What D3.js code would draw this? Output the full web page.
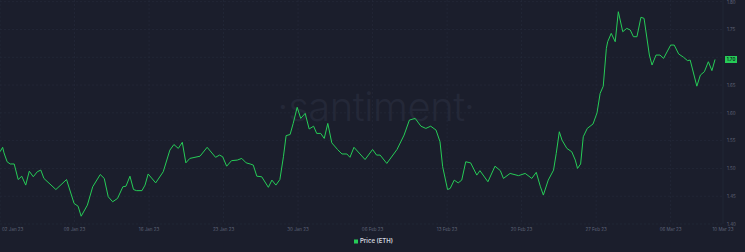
<!DOCTYPE html>
<html>
<head>
<meta charset="utf-8">
<script src="https://cdn.jsdelivr.net/npm/d3@7"></script>
<style>
  body { margin: 0; background: #1b1e2c; }
  svg { display: block; }
</style>
</head>
<body>
<div id="chart"></div>
<script>
// ***** DATA *****
var startDate = "2023-01-02T00:00:00Z";
var seriesName = "Price (ETH)";

// hours after startDate for each reading
var hourOffsets = [
  0, 6, 9, 16, 23, 32, 41, 49, 58, 66, 75, 84, 92, 99, 126, 150, 167, 176, 183, 197,
  209, 226, 235, 244, 254, 265, 277, 284, 293, 301, 308, 320, 327, 334, 351, 368, 383, 392, 402, 411,
  419, 428, 451, 467, 486, 495, 502, 511, 522, 535, 545, 555, 564, 571, 579, 590, 605, 613, 622, 631,
  639, 645, 654, 661, 670, 678, 688, 697, 707, 714, 723, 731, 739, 748, 761, 771, 782, 789, 798, 823,
  840, 849, 857, 872, 895, 911, 923, 936, 949, 960, 971, 983, 992, 998, 1009, 1015, 1024, 1033, 1041, 1050,
  1061, 1075, 1082, 1100, 1116, 1128, 1135, 1150, 1169, 1184, 1199, 1209, 1218, 1225, 1236, 1248, 1254, 1261, 1267, 1278,
  1289, 1297, 1302, 1309, 1315, 1324, 1337, 1346, 1353, 1360, 1367, 1370, 1378, 1387, 1394, 1404, 1413, 1421, 1428, 1436,
  1445, 1452, 1464, 1470, 1479, 1488, 1496, 1512, 1520, 1530, 1541, 1550, 1556, 1571, 1579, 1588, 1597, 1605, 1612
];

var prices = [
  1.530, 1.538, 1.528, 1.512, 1.508, 1.508, 1.480, 1.486, 1.470, 1.495, 1.485, 1.494, 1.497, 1.482, 1.462, 1.480, 1.437, 1.432, 1.414, 1.434,
  1.467, 1.489, 1.482, 1.449, 1.440, 1.446, 1.467, 1.468, 1.486, 1.462, 1.460, 1.460, 1.470, 1.490, 1.474, 1.494, 1.533, 1.543, 1.536, 1.547,
  1.510, 1.518, 1.522, 1.538, 1.520, 1.524, 1.521, 1.504, 1.514, 1.515, 1.518, 1.510, 1.508, 1.506, 1.486, 1.485, 1.466, 1.479, 1.470, 1.480,
  1.521, 1.559, 1.561, 1.581, 1.610, 1.590, 1.599, 1.571, 1.576, 1.563, 1.563, 1.554, 1.581, 1.546, 1.534, 1.526, 1.526, 1.520, 1.538, 1.516,
  1.534, 1.524, 1.524, 1.509, 1.534, 1.560, 1.587, 1.590, 1.576, 1.572, 1.576, 1.569, 1.548, 1.503, 1.462, 1.464, 1.479, 1.474, 1.479, 1.512,
  1.510, 1.488, 1.496, 1.476, 1.504, 1.496, 1.482, 1.491, 1.487, 1.491, 1.482, 1.493, 1.468, 1.452, 1.479, 1.497, 1.527, 1.566, 1.551, 1.536,
  1.530, 1.515, 1.500, 1.508, 1.557, 1.572, 1.580, 1.600, 1.635, 1.648, 1.716, 1.728, 1.743, 1.728, 1.782, 1.746, 1.752, 1.749, 1.737, 1.737,
  1.772, 1.770, 1.704, 1.686, 1.704, 1.704, 1.698, 1.722, 1.722, 1.706, 1.700, 1.694, 1.695, 1.648, 1.668, 1.674, 1.692, 1.676, 1.696
];

var yTickValues = [1.40, 1.45, 1.50, 1.55, 1.60, 1.65, 1.70, 1.75, 1.80];
var xTickDates = [
  "2023-01-02", "2023-01-09", "2023-01-16", "2023-01-23", "2023-01-30",
  "2023-02-06", "2023-02-13", "2023-02-20", "2023-02-27", "2023-03-06"
];
var domainHours = 1630;

// ***** CHART *****
var width = 745, height = 252;
var plotRight = 723, plotTop = 1.7, plotBottom = 224;
var green = "#26cc57";
var gridColor = "#272b3c";
var textColor = "#5f6478";

var t0 = new Date(startDate);
var hour = 3600 * 1000;
var data = prices.map(function(p, i) {
  return { date: new Date(t0.getTime() + hourOffsets[i] * hour), value: p };
});

var x = d3.scaleUtc()
  .domain([t0, new Date(t0.getTime() + domainHours * hour)])
  .range([0, plotRight]);

var y = d3.scaleLinear()
  .domain([1.40, 1.80])
  .range([plotBottom, plotTop]);

var svg = d3.select("#chart")
  .append("svg")
  .attr("width", width)
  .attr("height", height)
  .style("font-family", "Inter, Roboto, sans-serif");

svg.append("rect")
  .attr("width", width)
  .attr("height", height)
  .attr("fill", "#1b1e2c");

// watermark
svg.append("text")
  .attr("x", 376)
  .attr("y", 121)
  .attr("text-anchor", "middle")
  .attr("fill", "#242838")
  .style("font-size", "40px")
  .style("font-weight", 300)
  .style("letter-spacing", "-0.5px")
  .text("\u00b7santiment\u00b7");

// grid
var xTicks = xTickDates.map(function(d) { return new Date(d + "T00:00:00Z"); });

svg.append("g")
  .selectAll("line")
  .data(xTicks)
  .enter()
  .append("line")
  .attr("x1", function(d) { return x(d); })
  .attr("x2", function(d) { return x(d); })
  .attr("y1", 0)
  .attr("y2", plotBottom)
  .attr("stroke", gridColor)
  .attr("stroke-width", 0.6)
  .attr("stroke-dasharray", "2,2");

svg.append("g")
  .selectAll("line")
  .data(yTickValues)
  .enter()
  .append("line")
  .attr("x1", 0)
  .attr("x2", plotRight)
  .attr("y1", function(d) { return y(d); })
  .attr("y2", function(d) { return y(d); })
  .attr("stroke", gridColor)
  .attr("stroke-width", 0.6)
  .attr("stroke-dasharray", "2,2");

svg.append("line")
  .attr("x1", plotRight)
  .attr("x2", plotRight)
  .attr("y1", 0)
  .attr("y2", plotBottom)
  .attr("stroke", gridColor)
  .attr("stroke-width", 0.6);

// the line
var line = d3.line()
  .x(function(d) { return x(d.date); })
  .y(function(d) { return y(d.value); });

svg.append("path")
  .datum(data)
  .attr("fill", "none")
  .attr("stroke", green)
  .attr("stroke-width", 1)
  .attr("stroke-linejoin", "round")
  .attr("d", line);

// x axis labels
var fmt = d3.utcFormat("%d %b %y");
var lastDate = data[data.length - 1].date;
var xLabels = xTicks.map(function(d, i) {
  return { pos: x(d), text: fmt(d), anchor: i === 0 ? "start" : "middle" };
});
xLabels.push({ pos: plotRight, text: fmt(lastDate), anchor: "middle" });

svg.append("g")
  .selectAll("text")
  .data(xLabels)
  .enter()
  .append("text")
  .attr("x", function(d) { return d.anchor === "start" ? d.pos + 2 : d.pos; })
  .attr("y", 230.5)
  .attr("text-anchor", function(d) { return d.anchor; })
  .attr("fill", textColor)
  .style("font-size", "4.5px")
  .text(function(d) { return d.text; });

// y axis labels (skip the one hidden under the value badge)
var lastValue = prices[prices.length - 1];
svg.append("g")
  .selectAll("text")
  .data(yTickValues.filter(function(v) { return Math.abs(y(v) - y(lastValue)) > 5; }))
  .enter()
  .append("text")
  .attr("x", 727)
  .attr("y", function(d) { return y(d) + 1.8; })
  .attr("fill", textColor)
  .style("font-size", "4.5px")
  .text(function(d) { return d.toFixed(2); });

// current value badge
var badge = svg.append("g")
  .attr("transform", "translate(725," + y(lastValue) + ")");
badge.append("rect")
  .attr("x", 0)
  .attr("y", -3.5)
  .attr("width", 12)
  .attr("height", 7)
  .attr("fill", green);
badge.append("text")
  .attr("x", 6)
  .attr("y", 1.8)
  .attr("text-anchor", "middle")
  .attr("fill", "#10131c")
  .style("font-size", "4.5px")
  .style("font-weight", 600)
  .text(lastValue.toFixed(2));

// legend
var legend = svg.append("g")
  .attr("transform", "translate(354,239.5)");
legend.append("rect")
  .attr("width", 4)
  .attr("height", 4)
  .attr("fill", green);
legend.append("text")
  .attr("x", 6)
  .attr("y", 3.8)
  .attr("fill", "#d0d3de")
  .style("font-size", "6px")
  .style("font-weight", 600)
  .text(seriesName);
</script>
</body>
</html>
